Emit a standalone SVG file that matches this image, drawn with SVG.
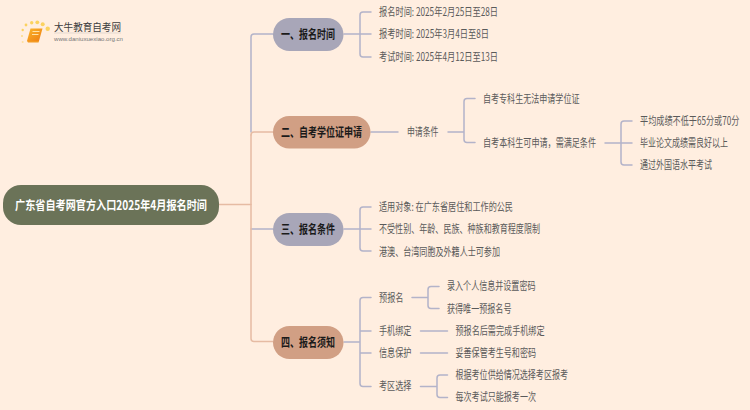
<svg xmlns="http://www.w3.org/2000/svg" width="750" height="410" viewBox="0 0 750 410">
<style>
text{font-family:"Noto Sans CJK SC","Liberation Sans",sans-serif;dominant-baseline:central}
.l{font-size:11.5px;fill:#5a5a5a}
.b{font-size:12.5px;font-weight:700;fill:#1a1a1a}
.r{font-size:12.5px;font-weight:700;fill:#fff}
.c{fill:none;stroke-width:1.5;stroke-linecap:round;stroke-linejoin:round}
.p{stroke:#b3b3c9}
.o{stroke:#e6bba3}
</style>
<defs>
<linearGradient id="bk" x1="0" y1="0" x2="1" y2="1"><stop offset="0" stop-color="#fbb62b"/><stop offset="1" stop-color="#ee7d12"/></linearGradient>
</defs>
<rect width="750" height="410" fill="#ffeee0"/>
<g id="connectors">
<path class="c p" d="M251 132V37Q251 34 254 34H273"/>
<path class="c p" d="M251 229H273"/>
<path class="c o" d="M219 204.500H251M251 135Q251 132 254 132H273"/>
<path class="c o" d="M251 135V338.500Q251 341.500 254 341.500H273"/>
<path class="c p" d="M344 34H371M371 12H363Q360 12 360 15V54Q360 57 363 57H371"/>
<path class="c p" d="M371 132H398"/>
<path class="c p" d="M448 132H464M475 98.500H467Q464 98.500 464 101.500V139.500Q464 142.500 467 142.500H475"/>
<path class="c p" d="M605 143H632M632 121H624Q621 121 621 124V162Q621 165 624 165H632"/>
<path class="c p" d="M344 229H371M371 207H363Q360 207 360 210V248Q360 251 363 251H371"/>
<path class="c p" d="M344 342H360M371 297.500H363Q360 297.500 360 300.500V383.500Q360 386.500 363 386.500H371M360 331H371M360 353H371"/>
<path class="c p" d="M412 297.500H428M439 286.500H431Q428 286.500 428 289.500V305.500Q428 308.500 431 308.500H439"/>
<path class="c p" d="M420.500 331H447.500M420.500 353H447.500"/>
<path class="c p" d="M420.500 386.500H437M447.500 375H440Q437 375 437 378V394.500Q437 397.500 440 397.500H447.500"/>
</g>
<g id="logo">
<g fill="#fbd25f"><circle cx="47.700" cy="28.700" r="2.200"/><circle cx="42.700" cy="24.300" r="2"/><circle cx="37.300" cy="22.300" r="1.900"/><circle cx="31.700" cy="22.700" r="1.700"/><circle cx="26" cy="25" r="1.400"/><circle cx="22.700" cy="30" r="1.200"/><circle cx="22" cy="36" r="1" opacity=".7"/><circle cx="22.700" cy="42" r="1" opacity=".5"/></g>
<path d="M30.500 28.500H42.500L39 41H27Z" fill="url(#bk)"/>
<path d="M27 41H39L38.500 42.500H28Z" fill="#f39a22"/>
<path d="M32.500 31.500H39.500M32 34.500H38.500" stroke="#ffe2a6" stroke-width="1" fill="none"/>
<text x="54" y="26.500" fill="#3d3d3d" textLength="67" lengthAdjust="spacingAndGlyphs" style="font-size:10.500px">大牛教育自考网</text>
<path d="M54 33H121" stroke="#d8d0c8" stroke-width=".7"/>
<text x="54" y="38.500" fill="#777" textLength="69" lengthAdjust="spacingAndGlyphs" style="font-size:6px;font-family:'Liberation Sans',sans-serif">www.daniuxuexiao.org.cn</text>
</g>
<g id="root"><rect x="3" y="185" width="216" height="40" rx="18" fill="#6b7358"/><text class="r" x="15" y="204" textLength="192" lengthAdjust="spacingAndGlyphs">广东省自考网官方入口2025年4月报名时间</text></g>
<g id="b1"><rect x="273" y="18" width="70.500" height="33" rx="16.500" fill="#a8a6b8"/><text class="b" x="281" y="33.500" textLength="54" lengthAdjust="spacingAndGlyphs">一、报名时间</text></g>
<g id="b2"><rect x="273" y="116" width="97.500" height="32.500" rx="16.200" fill="#d19f84"/><text class="b" x="281" y="131" textLength="81" lengthAdjust="spacingAndGlyphs">二、自考学位证申请</text></g>
<g id="b3"><rect x="273" y="213" width="70.500" height="33" rx="16.500" fill="#a8a6b8"/><text class="b" x="281" y="228" textLength="54" lengthAdjust="spacingAndGlyphs">三、报名条件</text></g>
<g id="b4"><rect x="273" y="326" width="70.500" height="33" rx="16.500" fill="#d19f84"/><text class="b" x="281" y="341" textLength="54" lengthAdjust="spacingAndGlyphs">四、报名须知</text></g>
<g id="n1"><text class="l" x="379" y="11" textLength="119" lengthAdjust="spacingAndGlyphs">报名时间: 2025年2月25日至28日</text></g>
<g id="n2"><text class="l" x="379" y="33" textLength="110" lengthAdjust="spacingAndGlyphs">报考时间: 2025年3月4日至8日</text></g>
<g id="n3"><text class="l" x="379" y="55.500" textLength="119" lengthAdjust="spacingAndGlyphs">考试时间: 2025年4月12日至13日</text></g>
<g id="n4"><text class="l" x="407" y="131" textLength="31.500" lengthAdjust="spacingAndGlyphs">申请条件</text></g>
<g id="n5"><text class="l" x="483" y="97.500" textLength="96.500" lengthAdjust="spacingAndGlyphs">自考专科生无法申请学位证</text></g>
<g id="n6"><text class="l" x="483" y="142" textLength="113" lengthAdjust="spacingAndGlyphs">自考本科生可申请&#65292;需满足条件</text></g>
<g id="n7"><text class="l" transform="translate(640 119.500) scale(.708 1)">平均成绩不低于65分或70分</text></g>
<g id="n8"><text class="l" transform="translate(640 142) scale(.696 1)">毕业论文成绩需良好以上</text></g>
<g id="n9"><text class="l" x="640" y="164" textLength="72" lengthAdjust="spacingAndGlyphs">通过外国语水平考试</text></g>
<g id="n10"><text class="l" x="379" y="206" textLength="134" lengthAdjust="spacingAndGlyphs">适用对象: 在广东省居住和工作的公民</text></g>
<g id="n11"><text class="l" x="379" y="228" textLength="161" lengthAdjust="spacingAndGlyphs">不受性别、年龄、民族、种族和教育程度限制</text></g>
<g id="n12"><text class="l" x="379" y="250.500" textLength="121" lengthAdjust="spacingAndGlyphs">港澳、台湾同胞及外籍人士可参加</text></g>
<g id="n13"><text class="l" x="379" y="296.500" textLength="24.500" lengthAdjust="spacingAndGlyphs">预报名</text></g>
<g id="n14"><text class="l" x="447" y="285" textLength="88.500" lengthAdjust="spacingAndGlyphs">录入个人信息并设置密码</text></g>
<g id="n15"><text class="l" x="447" y="307.500" textLength="64.500" lengthAdjust="spacingAndGlyphs">获得唯一预报名号</text></g>
<g id="n16"><text class="l" x="379" y="329.500" textLength="32.500" lengthAdjust="spacingAndGlyphs">手机绑定</text></g>
<g id="n17"><text class="l" x="455.500" y="329.500" textLength="89" lengthAdjust="spacingAndGlyphs">预报名后需完成手机绑定</text></g>
<g id="n18"><text class="l" x="379" y="351.500" textLength="32.500" lengthAdjust="spacingAndGlyphs">信息保护</text></g>
<g id="n19"><text class="l" x="455.500" y="351.500" textLength="80.500" lengthAdjust="spacingAndGlyphs">妥善保管考生号和密码</text></g>
<g id="n20"><text class="l" x="379" y="385" textLength="32.500" lengthAdjust="spacingAndGlyphs">考区选择</text></g>
<g id="n21"><text class="l" x="455.500" y="374" textLength="112.500" lengthAdjust="spacingAndGlyphs">根据考位供给情况选择考区报考</text></g>
<g id="n22"><text class="l" x="455.500" y="396" textLength="80.500" lengthAdjust="spacingAndGlyphs">每次考试只能报考一次</text></g>
</svg>
